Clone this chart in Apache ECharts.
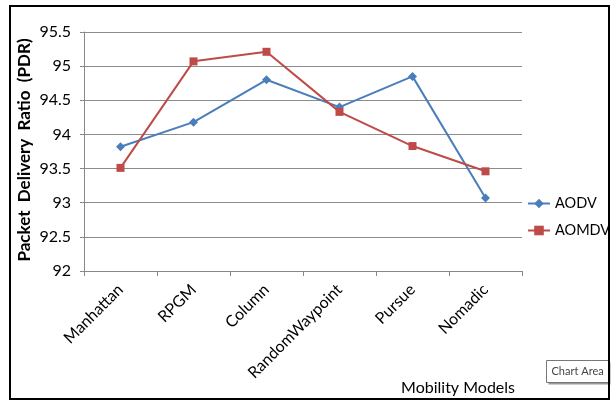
<!DOCTYPE html>
<html>
<head>
<meta charset="utf-8">
<script src="https://cdn.jsdelivr.net/npm/echarts@6/dist/echarts.min.js"></script>
<style>
  html, body { margin: 0; padding: 0; background: #fff; }
  #chart { width: 616px; height: 413px; }
</style>
</head>
<body>
<div id="chart"></div>
<script>
// Mobility models on the category axis
const models = ['Manhattan', 'RPGM', 'Column', 'RandomWaypoint', 'Pursue', 'Nomadic'];
// Packet delivery ratio (%) per routing protocol
const aodv = [93.82, 94.18, 94.80, 94.40, 94.85, 93.07];
const aomdv = [93.51, 95.07, 95.21, 94.33, 93.83, 93.46];
// Value axis range and tick step
const yMin = 92, yMax = 95.5, yStep = 0.5;
const yTitle = 'Packet  Delivery  Ratio  (PDR)';

const font = 'Lato, "Open Sans", sans-serif';
const chart = echarts.init(document.getElementById('chart'), null, { renderer: 'canvas' });

chart.setOption({
  backgroundColor: '#fff',
  animation: false,
  grid: { left: 84, right: 94, top: 32, bottom: 142 },
  legend: {
    orient: 'vertical',
    left: 527,
    top: 196,
    padding: 0,
    itemGap: 12,
    itemWidth: 22,
    itemHeight: 12,
    textStyle: { fontFamily: font, fontSize: 14.5, color: '#000' },
    data: ['AODV', 'AOMDV']
  },
  xAxis: {
    type: 'category',
    data: models,
    boundaryGap: true,
    name: 'Mobility Models',
    nameLocation: 'end',
    nameGap: 0,
    nameTextStyle: { fontFamily: font, fontSize: 16, color: '#000', align: 'right', verticalAlign: 'top', padding: [109, 7, 0, 0] },
    axisLine: { show: true, lineStyle: { color: '#888', width: 1 } },
    axisTick: { show: true, alignWithLabel: false, length: 5, lineStyle: { color: '#888' } },
    axisLabel: { rotate: 45, fontFamily: font, fontSize: 16, color: '#000', margin: 16 },
    splitLine: { show: false }
  },
  yAxis: {
    type: 'value',
    min: yMin,
    max: yMax,
    interval: yStep,
    axisLine: { show: true, lineStyle: { color: '#888', width: 1 } },
    axisTick: { show: true, length: 4, lineStyle: { color: '#888' } },
    axisLabel: { fontFamily: font, fontSize: 16, color: '#000', margin: 13,
      formatter: v => String(Math.round(v * 10) / 10) },
    splitLine: { show: true, lineStyle: { color: '#8c8c8c', width: 1 } }
  },
  series: [
    {
      name: 'AODV',
      type: 'line',
      data: aodv,
      symbol: 'diamond',
      symbolSize: 9,
      color: '#4a7ebb',
      lineStyle: { width: 2, color: '#4a7ebb' },
      itemStyle: { color: '#4a7ebb' }
    },
    {
      name: 'AOMDV',
      type: 'line',
      data: aomdv,
      symbol: 'rect',
      symbolSize: 8,
      color: '#be4b48',
      lineStyle: { width: 2, color: '#be4b48' },
      itemStyle: { color: '#be4b48' }
    }
  ],
  graphic: [
    // Outer chart frame
    { type: 'rect', shape: { x: 10, y: 6, width: 599, height: 393 },
      style: { fill: 'none', stroke: '#000', lineWidth: 2 }, silent: true, z: 100 },
    // Vertical value-axis title
    { type: 'text', x: 25, y: 150, rotation: Math.PI / 2, z: 100,
      style: { text: yTitle, font: 'bold 17px ' + font, fill: '#000', align: 'center', verticalAlign: 'middle' } },
    // Hover hint box
    { type: 'group', left: 546, top: 360, z: 110, children: [
      { type: 'rect', shape: { x: 2, y: 2, width: 62, height: 22 }, style: { fill: '#999' } },
      { type: 'rect', shape: { x: 0, y: 0, width: 62, height: 22 }, style: { fill: '#fff', stroke: '#777', lineWidth: 1 } },
      { type: 'text', x: 5, y: 5, style: { text: 'Chart Area', font: '11px ' + font, fill: '#444' } }
    ] }
  ]
});
</script>
</body>
</html>
